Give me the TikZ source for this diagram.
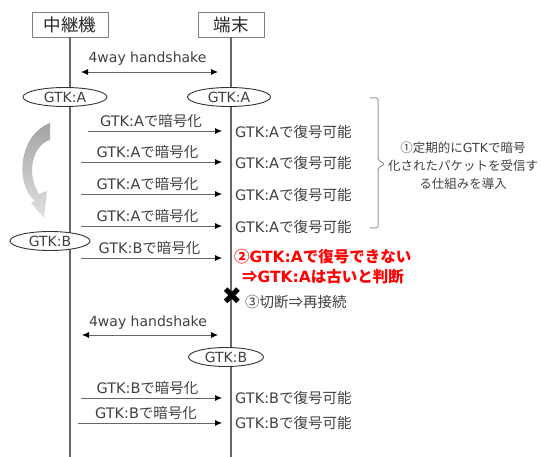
\documentclass[tikz,border=0pt]{standalone}
\usepackage{fontspec}
\setmainfont{Noto Sans CJK JP}
\newfontfamily\lat{DejaVu Sans}
\usepackage{xcolor}
\usetikzlibrary{
    arrows.meta,
    shapes.geometric,
    positioning
}
\definecolor{txtgray}{HTML}{404040}
\definecolor{linegray}{HTML}{666666}
\tikzset{
    ent/.style={draw=black!50, line width=0.8pt, minimum height=25pt, inner sep=0pt, font=\fontsize{17.5}{19}\selectfont, text=black!85},
    gtk/.style={ellipse, draw=black!80, line width=0.9pt, fill=white, minimum height=19pt, inner sep=0pt, font=\lat\fontsize{14}{16}\selectfont, text=txtgray},
    msg/.style={draw=linegray, line width=0.8pt, >={Latex[length=7pt, width=6pt, color=black]}},
    lbl/.style={font=\fontsize{14.5}{16}\selectfont, text=txtgray, inner sep=0pt},
    warn/.style={font=\fontsize{15.5}{18}\selectfont\bfseries, text=red, inner sep=0pt, anchor=west}
}

\begin{document}
\begin{tikzpicture}[x=1pt, y=-1pt]
    \useasboundingbox (0,0) rectangle (541,457);

    % lifelines
    \node[ent, minimum width=76pt] (relay) at (70,24.5) {中継機};
    \node[ent, minimum width=66pt] (term) at (231,24.5) {端末};
    \coordinate (relayEnd) at (70,457);
    \coordinate (termEnd) at (231,457);
    \draw[linegray, line width=1.2pt]
        (relay.south) -- (relayEnd)
        (term.south) -- (termEnd);

    % first handshake
    \coordinate (hsA1) at (81,72);
    \coordinate (hsA2) at (218,72);
    \draw[msg, <->] (hsA1) -- node[lbl, font=\lat\fontsize{14}{16}\selectfont, above=6pt, xshift=-2pt] {4way handshake} (hsA2);

    \node[gtk, minimum width=84pt] (keyA1) at (65,97) {GTK:A};
    \node[gtk, minimum width=83pt] (keyA2) at (229,97) {GTK:A};

    % packets with the old key
    \foreach \y/\x [count=\i] in {131/88, 162/81, 194/81, 226/81} {
        \coordinate (srcA\i) at (\x,\y);
        \coordinate (dstA\i) at (222,\y);
        \draw[msg, ->] (srcA\i) -- node[lbl, above=3pt, xshift=-4pt] {{\lat GTK:A}で暗号化} (dstA\i);
        \node[lbl, anchor=west] (decA\i) at (235,\y+1) {{\lat GTK:A}で復号可能};
    }

    % key update on the relay side
    \shade[top color=black!36, bottom color=black!12]
        (50,123) -- (50,140) .. controls (34,144) and (25,172) .. (39,194)
        -- (47,191) -- (44,218) -- (31,203) -- (35,201)
        .. controls (15,185) and (18,135) .. cycle;
    \node[gtk, minimum width=80pt] (keyB1) at (50,241) {GTK:B};

    \coordinate (srcB0) at (81,258);
    \coordinate (dstB0) at (222,258);
    \draw[msg, ->] (srcB0) -- node[lbl, above=3pt, xshift=-2pt] {{\lat GTK:B}で暗号化} (dstB0);

    % brace and note
    \draw[black!40, line width=1pt, rounded corners=1.5pt]
        (370,98) -| (378,160) -- (385,164) -- (378,168) |- (370,228);
    \node[lbl, font=\fontsize{12.5}{18}\selectfont, align=center] (note) at (463,166)
        {①定期的に{\lat GTK}で暗号\\化されたパケットを受信す\\る仕組みを導入};

    \node[warn] (fail) at (234,257) {②{\lat GTK:A}で復号できない};
    \node[warn] (stale) at (242,277) {⇒{\lat GTK:A}は古いと判断};

    \node[font=\lat\fontsize{24}{24}\selectfont, inner sep=0pt] (cut) at (232,296) {✖};
    \node[lbl, anchor=west] (recon) at (245,302) {③切断⇒再接続};

    % second handshake
    \coordinate (hsB1) at (82,335);
    \coordinate (hsB2) at (218,335);
    \draw[msg, <->] (hsB1) -- node[lbl, font=\lat\fontsize{14}{16}\selectfont, above=5pt, xshift=-2pt] {4way handshake} (hsB2);

    \node[gtk, minimum width=75pt] (keyB2) at (226,357) {GTK:B};

    % packets with the new key
    \foreach \y/\x [count=\i] in {398/81, 423/78} {
        \coordinate (srcB\i) at (\x,\y);
        \coordinate (dstB\i) at (222,\y);
        \draw[msg, ->] (srcB\i) -- node[lbl, above=3pt, xshift=-4pt] {{\lat GTK:B}で暗号化} (dstB\i);
        \node[lbl, anchor=west] (decB\i) at (235,\y) {{\lat GTK:B}で復号可能};
    }
\end{tikzpicture}
\end{document}
